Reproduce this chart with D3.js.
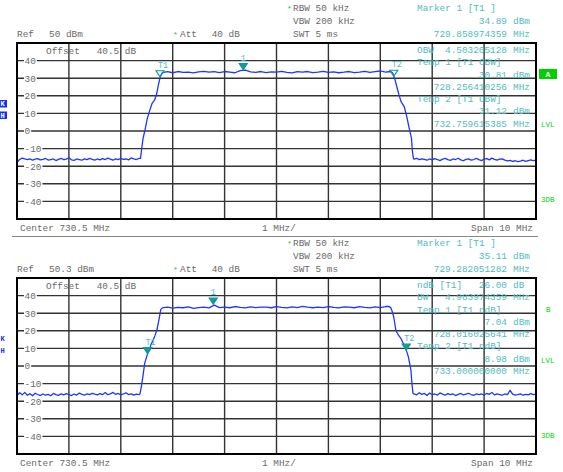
<!DOCTYPE html>
<html><head><meta charset="utf-8">
<script src="https://d3js.org/d3.v7.min.js"></script>
<style>body{margin:0;background:#fff}svg text{font-family:"Liberation Mono",monospace;white-space:pre}</style>
</head><body><svg id="c" width="563" height="472"></svg>
<script>
// ---------- data ----------
const fStart = 725.5, fStop = 735.5;           // Center 730.5 MHz, Span 10 MHz
const xGrid = [726.5,727.5,728.5,729.5,730.5,731.5,732.5,733.5,734.5];
const yTicks = [40,30,20,10,0,-10,-20,-30,-40];
const noiseStep = 0.05, flatStep = 0.1;

// top trace (OBW measurement)
const topLeftStart = 725.5;
const topLeftNoise = [-17.8,-16.2,-15.4,-15.9,-16.3,-15.8,-16.6,-16.0,-15.7,-16.4,
 -16.1,-15.6,-16.5,-16.2,-15.9,-16.8,-16.1,-15.5,-16.3,-16.0,
 -15.2,-16.4,-16.7,-15.9,-16.2,-16.6,-15.8,-16.3,-15.6,-16.1,
 -16.5,-15.9,-16.4,-15.7,-16.2,-15.4,-16.0,-16.6,-15.8,-16.3,
 -15.5,-16.1,-15.9,-16.4,-15.3,-15.8,-16.2,-15.6];
const topRiseFreq  = [727.88,727.90,727.93,727.97,728.01,728.05,728.10,728.15,728.19,728.23,728.26];
const topRiseLevel = [-15.6,-10.5,-4.0,1.0,7.0,11.0,15.5,17.5,21.0,27.0,30.8];
const topFlatStart = 728.3;
const topFlat = [33.2,33.7,33.1,33.8,33.3,33.5,33.0,33.6,33.9,33.4,
 33.7,33.2,33.8,33.5,33.1,34.3,34.6,33.6,33.3,33.8,
 33.2,33.6,33.4,33.9,33.3,33.0,33.7,33.4,33.8,33.2,
 33.5,33.9,33.3,33.6,33.1,33.4,33.8,33.2,33.5,33.9,
 33.3,33.7,34.1,33.5,33.8];
const topFallFreq  = [732.74,732.76,732.78,732.82,732.86,732.90,732.96,733.01,733.05,733.10,733.12,733.14];
const topFallLevel = [32.9,31.1,29.5,25.0,20.5,16.7,13.9,8.2,2.5,-4.0,-12.0,-15.8];
const topRightStart = 733.15;
const topRightNoise = [-16.0,-15.5,-16.3,-15.8,-16.1,-16.6,-15.9,-16.4,-15.7,-16.2,
 -16.8,-16.0,-15.6,-16.3,-16.7,-15.9,-16.2,-15.5,-16.4,-16.9,
 -16.1,-15.8,-16.5,-16.2,-15.6,-16.3,-16.8,-16.0,-15.7,-16.4,
 -15.4,-16.1,-16.6,-16.0,-15.8,-16.5,-17.0,-16.7,-17.2,-16.9,
 -17.4,-17.1,-16.6,-17.3,-16.8,-16.4,-16.9,-16.5];

// bottom trace (n dB down measurement)
const botLeftStart = 725.5;
const botLeftNoise = [-16.8,-15.2,-16.4,-15.0,-16.6,-15.7,-16.9,-15.5,-16.2,-16.8,
 -15.9,-16.5,-16.1,-16.9,-15.6,-16.3,-16.7,-15.8,-16.4,-15.7,
 -16.2,-16.8,-15.9,-16.5,-15.4,-16.1,-16.6,-15.8,-16.3,-15.5,
 -16.0,-16.4,-15.7,-16.2,-15.1,-16.3,-15.8,-15.0,-16.1,-15.6,
 -16.4,-15.9,-15.3,-16.2,-15.8,-16.5,-16.0,-16.3];
const botRiseFreq  = [727.87,727.90,727.93,727.96,728.00,728.016,728.05,728.08,728.12,728.16,728.20,728.24,728.27];
const botRiseLevel = [-15.8,-11.0,-5.0,1.5,5.5,7.0,9.5,12.0,14.5,17.4,21.0,27.0,32.0];
const botFlatStart = 728.3;
const botFlat = [33.0,33.4,32.9,33.3,33.1,33.6,32.8,33.2,33.5,33.0,
 34.6,33.2,33.5,33.1,33.8,33.3,33.0,33.6,33.2,33.4,
 33.5,33.1,33.7,33.3,33.0,33.6,33.2,33.9,33.4,33.1,
 33.5,33.2,33.8,33.3,33.0,33.6,33.4,33.1,33.7,33.3,
 33.0,33.6,33.2,33.8];
const botFallFreq  = [732.66,732.70,732.73,732.76,732.80,732.85,732.90,732.95,733.00,733.04,733.09,733.11,733.13];
const botFallLevel = [33.9,33.2,31.0,27.7,20.2,17.5,15.5,12.5,9.0,5.3,-2.4,-10.0,-15.6];
const botRightStart = 733.15;
const botRightNoise = [-15.8,-16.4,-15.2,-16.1,-15.6,-16.7,-15.4,-16.2,-15.9,-16.5,
 -15.3,-16.0,-16.6,-15.7,-16.3,-15.9,-16.8,-16.1,-15.6,-16.4,
 -16.0,-15.5,-16.2,-16.7,-15.8,-16.3,-15.9,-16.5,-15.6,-16.1,
 -15.0,-16.4,-15.8,-16.2,-16.6,-15.9,-16.3,-13.8,-16.0,-16.5,
 -16.2,-15.8,-16.6,-16.1,-16.4,-15.7,-16.3,-16.0];

// markers
const topMarkerFreq  = [729.858974359, 728.256410256, 732.759615385];
const topMarkerLevel = [34.89, 30.81, 31.12];
const botMarkerFreq  = [729.282051282, 728.016025641, 733.0];
const botMarkerLevel = [35.11, 7.04, 8.98];
const markerNames = ["1","T1","T2"];

// text panels
const topHeader = {ref:"50", rbw:"RBW 50 kHz", vbw:"VBW 200 kHz", swt:"SWT 5 ms", att:"40 dB",
  mkVal:"34.89", mkFreq:"729.858974359"};
const botHeader = {ref:"50.3", rbw:"RBW 50 kHz", vbw:"VBW 200 kHz", swt:"SWT 5 ms", att:"40 dB",
  mkVal:"35.11", mkFreq:"729.282051282"};
const topInfo = [["OBW","4.503205128","MHz"],["Temp 1 [T1 OBW]","",""],["","30.81","dBm"],
  ["","728.256410256","MHz"],["Temp 2 [T1 OBW]","",""],["","31.12","dBm"],["","732.759615385","MHz"]];
const botInfo = [["ndB [T1]","26.00","dB"],["BW","4.983974359","MHz"],["Temp 1 [T1 ndB]","",""],
  ["","7.04","dBm"],["","728.016025641","MHz"],["Temp 2 [T1 ndB]","",""],["","8.98","dBm"],
  ["","733.000000000","MHz"]];

// ---------- drawing ----------
const svg = d3.select("#c");
svg.append("rect").attr("width",563).attr("height",472).attr("fill","#fff");
const GREY="#6a6a6a", CYAN="#4fbdbd", GREEN="#00d000", TEAL="#119a9a", BLUE="#1f36ff";
const FS=9.4;
const PL=17, PR=536, PT=43, PB=219;

function txt(g,x,y,s,fill,anchor,size,weight){
  return g.append("text").attr("x",x).attr("y",y).text(s).attr("fill",fill)
    .attr("text-anchor",anchor||"start").attr("font-size",size||FS).attr("font-weight",weight||"normal");
}
function series(leftStart,left,riseF,riseL,flatStart,flat,fallF,fallL,rightStart,right){
  const pts=[];
  left.forEach((v,i)=>pts.push([leftStart+i*noiseStep,v]));
  riseF.forEach((f,i)=>pts.push([f,riseL[i]]));
  flat.forEach((v,i)=>pts.push([flatStart+i*flatStep,v]));
  fallF.forEach((f,i)=>pts.push([f,fallL[i]]));
  right.forEach((v,i)=>pts.push([rightStart+i*noiseStep,v]));
  return pts;
}
const x = d3.scaleLinear().domain([fStart,fStop]).range([PL,PR]);

function panel(dy, hdr, info, pts, mF, mL, filledT, idx){
  const g = svg.append("g").attr("transform",`translate(0,${dy})`);
  const y = d3.scaleLinear().domain([-50,50]).range([PB,PT]);
  // header
  txt(g,287,11,"*",GREEN,"start",8);
  txt(g,293,10.5,hdr.rbw,GREY);
  txt(g,293,24,hdr.vbw,GREY);
  txt(g,293,36.5,hdr.swt,GREY);
  txt(g,17,36.5,"Ref",GREY);
  txt(g,49,36.5,hdr.ref+" dBm",GREY);
  txt(g,173,37,"*",GREEN,"start",8);
  txt(g,180,36.5,"Att",GREY);
  txt(g,211.7,36.5,hdr.att,GREY);
  txt(g,417,10.5,"Marker 1 [T1 ]",CYAN);
  txt(g,507,24,hdr.mkVal,CYAN,"end");
  txt(g,513,24,"dBm",CYAN);
  txt(g,507,36.5,hdr.mkFreq,CYAN,"end");
  txt(g,513,36.5,"MHz",CYAN);
  // grid
  g.append("g").selectAll("line").data(xGrid).join("line")
    .attr("x1",d=>x(d)).attr("x2",d=>x(d)).attr("y1",PT).attr("y2",PB)
    .attr("stroke","#333").attr("stroke-width",1.4);
  g.append("g").selectAll("line").data(yTicks).join("line")
    .attr("x1",PL).attr("x2",PR).attr("y1",d=>y(d)).attr("y2",d=>y(d))
    .attr("stroke","#333").attr("stroke-width",1.4);
  // y labels with white background
  yTicks.forEach(t=>{
    const s=String(t);
    const w=s.length*FS*0.6;
    g.append("rect").attr("x",24).attr("y",y(t)-4.5).attr("width",w+1.5).attr("height",9).attr("fill","#fff");
    txt(g,24.5,y(t)+3.3,s,GREY);
  });
  txt(g,46,53.5,"Offset   40.5 dB",GREY);
  // info block
  info.forEach((r,i)=>{
    const by=53+i*12.25;
    if(r[0]) txt(g,417,by,r[0],CYAN);
    if(r[1]) txt(g,507,by,r[1],CYAN,"end");
    if(r[2]) txt(g,513,by,r[2],CYAN);
  });
  // trace
  const clipId="clip"+idx;
  g.append("clipPath").attr("id",clipId).append("rect").attr("x",PL).attr("y",PT).attr("width",PR-PL).attr("height",PB-PT);
  g.append("path").datum(pts).attr("clip-path",`url(#${clipId})`)
    .attr("d",d3.line().x(d=>x(d[0])).y(d=>y(d[1])))
    .attr("fill","none").attr("stroke",BLUE).attr("stroke-width",1.3).attr("stroke-linejoin","round");
  // markers
  mF.forEach((f,i)=>{
    const mx=x(f), my=y(mL[i]);
    const isT = markerNames[i]!=="1";
    g.append("path").attr("d",`M${mx-4},${my-6}L${mx+4},${my-6}L${mx},${my}Z`)
      .attr("fill",(!isT||filledT)?TEAL:"none").attr("stroke",TEAL).attr("stroke-width",1.2);
    txt(g,mx+(isT?3:0),my-9,markerNames[i],CYAN,"middle",8.5);
  });
  // border
  g.append("rect").attr("x",PL).attr("y",PT).attr("width",PR-PL).attr("height",PB-PT)
    .attr("fill","none").attr("stroke","#000").attr("stroke-width",2);
  // footer
  txt(g,20,231,"Center 730.5 MHz",GREY);
  txt(g,279,231,"1 MHz/",GREY,"middle");
  txt(g,533,231,"Span 10 MHz",GREY,"end");
  return g;
}

const g1 = panel(0, topHeader, topInfo,
  series(topLeftStart,topLeftNoise,topRiseFreq,topRiseLevel,topFlatStart,topFlat,topFallFreq,topFallLevel,topRightStart,topRightNoise),
  topMarkerFreq, topMarkerLevel, false, 1);
const g2 = panel(235, botHeader, botInfo,
  series(botLeftStart,botLeftNoise,botRiseFreq,botRiseLevel,botFlatStart,botFlat,botFallFreq,botFallLevel,botRightStart,botRightNoise),
  botMarkerFreq, botMarkerLevel, true, 2);

// separator
svg.append("line").attr("x1",12).attr("x2",538).attr("y1",236.5).attr("y2",236.5).attr("stroke","#888").attr("stroke-width",1);

// side labels top
g1.append("rect").attr("x",539).attr("y",69).attr("width",18).attr("height",10).attr("fill",GREEN);
txt(g1,548,77.3,"A","#fff","middle",8,"bold");
txt(g1,541,127,"LVL",GREEN,"start",7.5);
txt(g1,541,202,"3DB",GREEN,"start",7.5);
g1.append("rect").attr("x",0).attr("y",100).attr("width",7).attr("height",7.5).attr("fill","#1030ff");
g1.append("rect").attr("x",0).attr("y",111.5).attr("width",7).attr("height",7.5).attr("fill","#1030ff");
txt(g1,0.5,106.2,"K","#fff","start",7,"bold");
txt(g1,0.5,117.7,"H","#fff","start",7,"bold");
// side labels bottom
txt(g2,546,77,"B",GREEN,"start",7.5);
txt(g2,541,128,"LVL",GREEN,"start",7.5);
txt(g2,541,203,"3DB",GREEN,"start",7.5);
txt(g2,0.5,106,"K","#1030ff","start",7,"bold");
txt(g2,0.5,118,"H","#1030ff","start",7,"bold");
</script></body></html>
